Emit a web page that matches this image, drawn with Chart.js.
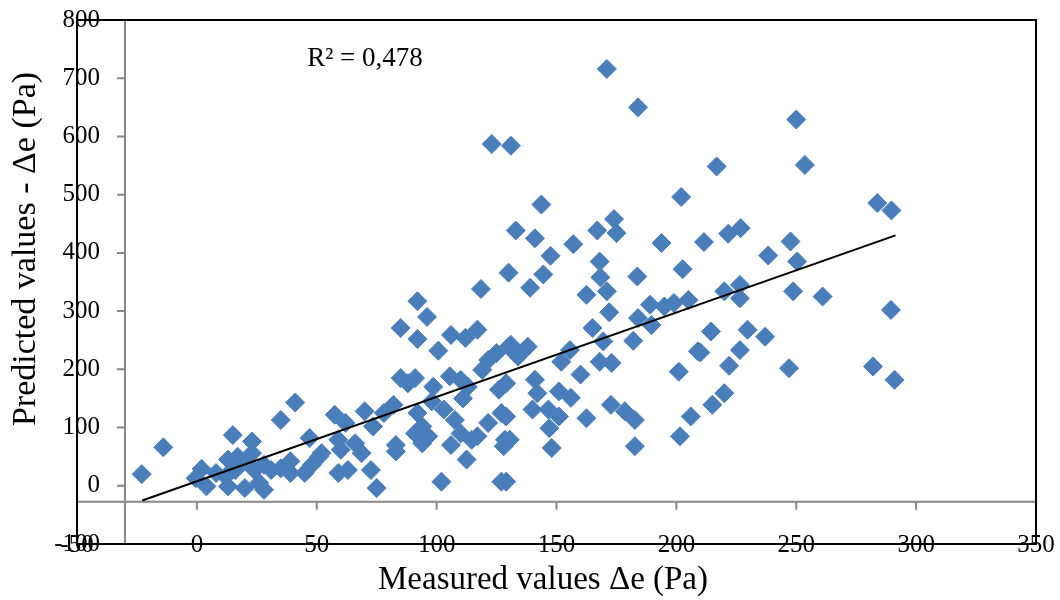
<!DOCTYPE html>
<html>
<head>
<meta charset="utf-8">
<script src="https://cdn.jsdelivr.net/npm/chart.js@4"></script>
<style>
  html, body { margin: 0; padding: 0; background: #fff; }
  #wrap { width: 1060px; height: 600px; }
</style>
</head>
<body>
<div id="wrap"><canvas id="myChart"></canvas></div>
<script>
"use strict"

// MEASURED VALUES (x)
const measured = [
    -23, -14, 15, 35, 41, 47, 2, -0.5, 4, 13, 12, 13, 17, 23, 23, 16, 20, 24, 28, 31,
    35, 39, 39, 45, 48, 51, 26, 8, 19, 28,
    118.5, 92, 96, 85, 92, 106, 112, 117, 100.7, 121.5, 125, 130, 119, 85, 91, 88, 98.6, 105.5, 110, 113,
    126, 57.5, 62, 70, 73.5, 78, 82, 92, 94, 91, 96.5, 103, 107.6, 110, 114.6, 121.5, 127, 128.5, 52, 59,
    60, 66, 68.7, 59, 63, 72.6, 75, 83, 83, 94, 106, 112.5, 117, 102, 127, 128, 111, 98,
    139, 162.5, 171, 172, 189, 184, 189.6, 195, 199, 205, 165, 169.5, 182, 155.6, 152, 168, 173, 160, 209, 201,
    131, 138, 134, 129, 141, 142, 151, 156, 140, 146.6, 151, 147, 162.5, 172.7, 178.5, 182.7, 148, 182.7, 201.5, 206,
    129, 130.5, 129,
    248.7, 261, 289.5, 220, 226.5, 226.5, 214.4, 229.7, 237, 210, 226.5, 222, 247, 282, 291, 220, 215,
    171, 184, 123, 131, 202, 143.7, 174, 167, 175, 133, 141, 157, 193.8, 147.5, 168, 130, 144.5, 168.3, 183.7, 202.6,
    250, 253.6, 216.8, 283.8, 289.7, 211.5, 221.6, 226.8, 247.6, 238.3, 250.4
];

// PREDICTED VALUES (y)
const predicted = [
    20, 66, 87, 113, 143, 82, 29, 13, -1, 45, 16, -1, 50, 76, 56, 27, -4, 27, -7, 27,
    30, 42, 22, 22, 36, 50, 5, 22, 40, 36,
    338, 317, 290, 271, 252, 259, 254, 268, 232, 216, 228, 239, 199, 185, 185, 176, 170, 188, 182, 170,
    165, 122, 108, 128, 102, 125, 139, 125, 102, 90, 85, 131, 113, 90, 79, 108, 125, 79, 56, 79,
    62, 73, 56, 22, 27, 27, -4, 70, 59, 73, 70, 45, 85, 7, 7, 68, 150, 145,
    340, 328, 334, 298, 311, 288, 276, 308, 314, 319, 271, 248, 249, 233, 213, 213, 211, 191, 231, 196,
    242, 239, 222, 176, 182, 159, 162, 151, 131, 131, 119, 99, 116, 139, 128, 113, 65, 68, 85, 119,
    119, 79, 7,
    334, 325, 302, 334, 345, 322, 265, 268, 256, 229, 233, 206, 202, 205, 182, 159, 139,
    716, 650, 587, 584, 496, 483, 458, 438.5, 434, 438.5, 425, 415, 417, 395, 385, 366, 363, 358, 359.5, 372,
    629, 551, 548.5, 485.6, 473, 418.6, 433, 442.5, 419.6, 395.6, 385.3
];

// TREND LINE END POINTS
const trendX = [-22.8, 291.4];
const trendY = [-25.2, 430];

// AXES
const xMin = -50, xMax = 350, xStep = 50;
const yMin = -100, yMax = 800, yStep = 100;
// where the grey axes cross
const greyAxisX = -30;
const greyAxisY = -27.5;

// TEXTS
const xTitle = 'Measured values Δe (Pa)';
const yTitle = 'Predicted values - Δe (Pa)';
const rSquared = 'R² = 0,478';

const font = 'Liberation Serif, Times New Roman, serif';

const scatterPoints = measured.map((v, i) => ({ x: v, y: predicted[i] }));
const trendPoints = trendX.map((v, i) => ({ x: v, y: trendY[i] }));

// grey axes, black frame, tick labels, titles and R² label
const decorations = {
    id: 'decorations',
    beforeDatasetsDraw(chart) {
        const { ctx, chartArea: a, scales } = chart;
        const sx = scales.x, sy = scales.y;
        const gx = sx.getPixelForValue(greyAxisX);
        const gy = sy.getPixelForValue(greyAxisY);
        ctx.save();

        // grey axes with their tick marks
        ctx.strokeStyle = '#878787';
        ctx.lineWidth = 2;
        ctx.beginPath();
        ctx.moveTo(gx, a.top); ctx.lineTo(gx, a.bottom);
        ctx.moveTo(a.left, gy); ctx.lineTo(a.right, gy);
        sy.ticks.forEach(t => {
            const p = sy.getPixelForValue(t.value);
            ctx.moveTo(gx - 8, p); ctx.lineTo(gx, p);
        });
        sx.ticks.forEach(t => {
            const p = sx.getPixelForValue(t.value);
            ctx.moveTo(p, gy); ctx.lineTo(p, gy + 8);
        });
        ctx.stroke();

        // black frame
        ctx.strokeStyle = '#000';
        ctx.lineWidth = 2;
        ctx.strokeRect(a.left, a.top, a.right - a.left, a.bottom - a.top);

        // tick labels (sit across the frame like in the original)
        ctx.fillStyle = '#000';
        ctx.font = '25px ' + font;
        ctx.textBaseline = 'middle';
        ctx.textAlign = 'right';
        sy.ticks.forEach(t => {
            ctx.fillText(String(t.value), a.left + 23, sy.getPixelForValue(t.value));
        });
        ctx.textAlign = 'center';
        sx.ticks.forEach(t => {
            ctx.fillText(String(t.value), sx.getPixelForValue(t.value), a.bottom + 1);
        });

        // axis titles
        ctx.font = '33px ' + font;
        ctx.fillText(xTitle, 543, 580);
        ctx.save();
        ctx.translate(26, 249);
        ctx.rotate(-Math.PI / 2);
        ctx.font = '34px ' + font;
        ctx.fillText(yTitle, 0, 0);
        ctx.restore();

        // R² label
        ctx.font = '27px ' + font;
        ctx.textAlign = 'left';
        ctx.textBaseline = 'alphabetic';
        ctx.fillText(rSquared, sx.getPixelForValue(46), sy.getPixelForValue(721));
        ctx.restore();
    }
};

const data = {
    datasets: [{
        type: 'line',
        label: 'Linear trend',
        data: trendPoints,
        borderColor: '#000',
        borderWidth: 2,
        pointRadius: 0,
        fill: false,
        order: 0
    }, {
        type: 'scatter',
        label: 'Predicted values',
        data: scatterPoints,
        pointStyle: 'rectRot',
        pointRadius: 9.5,
        backgroundColor: '#4a7ebb',
        borderColor: '#4a7ebb',
        borderWidth: 1,
        order: 1
    }]
};

const config = {
    type: 'scatter',
    data: data,
    options: {
        responsive: false,
        animation: false,
        layout: { padding: { top: 20, right: 24, left: 0, bottom: 0 } },
        plugins: {
            legend: { display: false },
            tooltip: { enabled: false }
        },
        scales: {
            x: {
                type: 'linear',
                min: xMin,
                max: xMax,
                ticks: { stepSize: xStep, display: false },
                grid: { display: false, drawTicks: false },
                border: { display: false },
                title: { display: false, text: xTitle },
                afterFit(s) { s.height = 56; }
            },
            y: {
                type: 'linear',
                min: yMin,
                max: yMax,
                ticks: { stepSize: yStep, display: false },
                grid: { display: false, drawTicks: false },
                border: { display: false },
                title: { display: false, text: yTitle },
                afterFit(s) { s.width = 77; }
            }
        }
    },
    plugins: [decorations]
};

const canvas = document.getElementById('myChart');
canvas.width = 1060;
canvas.height = 600;
const myChart = new Chart(canvas, config);
</script>
</body>
</html>
